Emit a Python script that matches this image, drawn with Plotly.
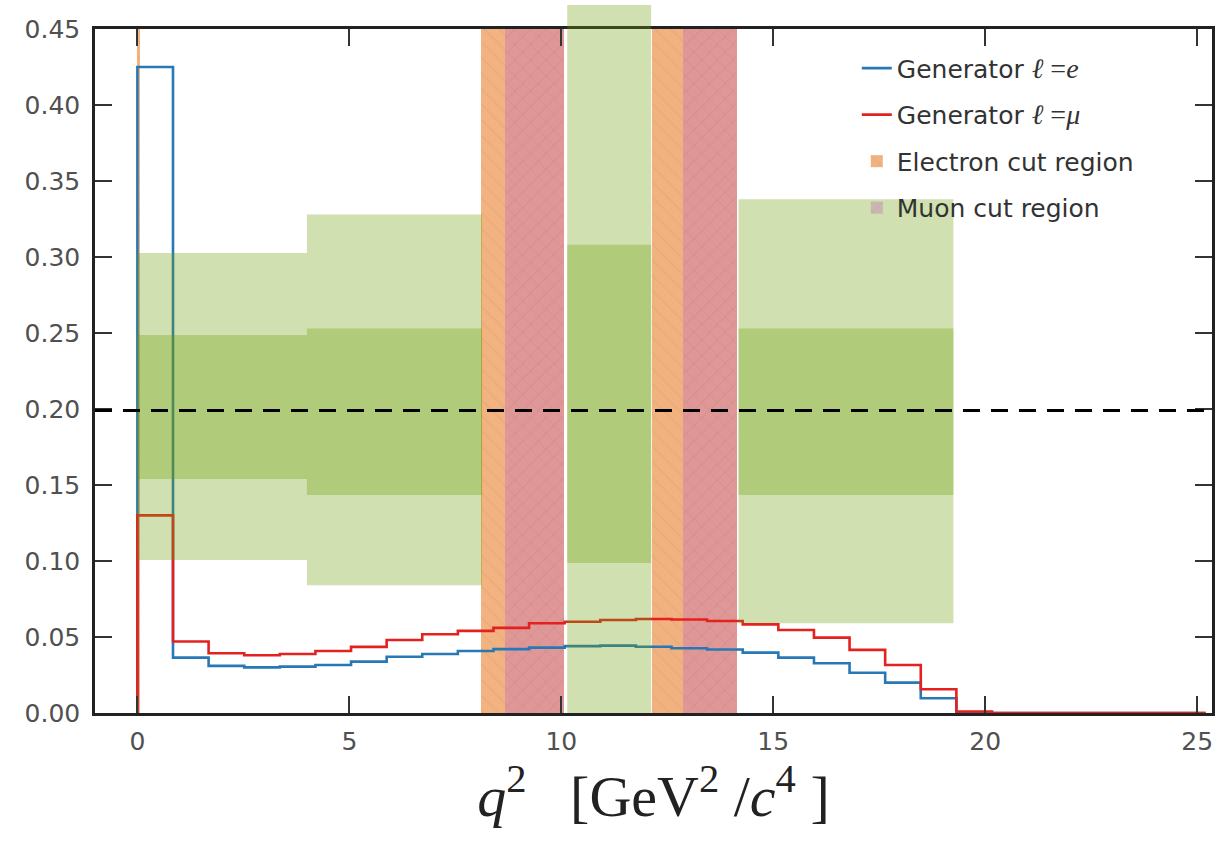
import numpy as np
import plotly.graph_objects as go

# q^2 histogram binning (GeV^2/c^4)
bin_width = 0.84
n_bins = 30
edges = np.arange(n_bins + 1) * bin_width

# normalised generator-level q^2 spectra
gen_e = [0.425, 0.0364, 0.0310, 0.0300, 0.0305, 0.0316, 0.0338, 0.0370, 0.0388, 0.0408,
         0.0420, 0.0430, 0.0440, 0.0443, 0.0436, 0.0426, 0.0418, 0.0397, 0.0364, 0.0327,
         0.0265, 0.0200, 0.0097, 0.0005, 0.0, 0.0, 0.0, 0.0, 0.0, 0.0]
gen_mu = [0.130, 0.0470, 0.0393, 0.0380, 0.0388, 0.0408, 0.0435, 0.0480, 0.0518, 0.0540,
          0.0560, 0.0590, 0.0600, 0.0612, 0.0618, 0.0615, 0.0605, 0.0583, 0.0546, 0.0496,
          0.0415, 0.0316, 0.0156, 0.0010, 0.0, 0.0, 0.0, 0.0, 0.0, 0.0]

# vetoed q^2 windows
electron_cut_lo = [0.0, 8.11, 12.15]
electron_cut_hi = [0.05, 10.07, 14.15]
muon_cut_lo = [8.68, 12.88]
muon_cut_hi = [10.07, 14.15]

# measurement bins with 1 sigma / 2 sigma bands
band_lo = [0.0, 4.0, 10.14, 14.18]
band_hi = [4.0, 8.13, 12.12, 19.25]
band_1s_lo = [0.154, 0.1434, 0.0987, 0.1434]
band_1s_hi = [0.2487, 0.253, 0.308, 0.253]
band_2s_lo = [0.1007, 0.084, 0.0, 0.059]
band_2s_hi = [0.3027, 0.328, 0.4658, 0.338]

reference_level = 0.199

x_range = [-1.0, 25.35]
y_range = [0.0, 0.45]
x_ticks = [0, 5, 10, 15, 20, 25]
y_ticks = [0.0, 0.05, 0.10, 0.15, 0.20, 0.25, 0.30, 0.35, 0.40, 0.45]

fig = go.Figure()


def step_xy(values):
    xs = [edges[0]] + list(edges)
    ys = [0.0] + list(values) + [values[-1]]
    return xs, ys


math = 'font-family:Liberation Serif;font-size:28px'
gx, gy = step_xy(gen_e)
fig.add_trace(go.Scatter(
    x=gx, y=gy, mode="lines", line=dict(color="#2878b5", width=2.6, shape="hv"),
    name=f'Generator <span style="{math}"><i>ℓ</i> =<i>e</i></span>', legendgroup="e"))
gx, gy = step_xy(gen_mu)
fig.add_trace(go.Scatter(
    x=gx, y=gy, mode="lines", line=dict(color="#e3211f", width=2.6, shape="hv"),
    name=f'Generator <span style="{math}"><i>ℓ</i> =<i>μ</i></span>', legendgroup="mu"))


def cut_bars(lo, hi, color, opacity, hatch, fg, name, group):
    lo = np.array(lo)
    hi = np.array(hi)
    return go.Bar(
        x=(lo + hi) / 2, width=hi - lo, base=[y_range[0]] * len(lo),
        y=[y_range[1] - y_range[0]] * len(lo),
        marker=dict(color=color, line=dict(width=0),
                    pattern=dict(shape=hatch, fillmode="overlay", bgcolor=color,
                                 fgcolor=fg, fgopacity=0.35, size=11, solidity=0.12)),
        opacity=opacity, name=name, legendgroup=group, hoverinfo="skip")


fig.add_trace(cut_bars(electron_cut_lo, electron_cut_hi, "rgb(234,132,52)", 0.62,
                       "\\", "rgb(190,90,30)", "Electron cut region", "ecut"))
fig.add_trace(cut_bars(muon_cut_lo, muon_cut_hi, "rgb(198,115,187)", 0.4,
                       "/", "rgb(150,60,120)", "Muon cut region", "mucut"))

# green uncertainty bands drawn over the spectra
green = "rgba(108,158,8,0.32)"
y_span = y_range[1] - y_range[0]
for lo, hi, b_lo, b_hi in zip(band_lo, band_hi, band_2s_lo, band_2s_hi):
    if b_hi > y_range[1]:
        # band reaching past the top of the axes is not clipped vertically
        fig.add_shape(type="rect", xref="x", yref="y domain", x0=lo, x1=hi,
                      y0=(b_lo - y_range[0]) / y_span, y1=(b_hi - y_range[0]) / y_span,
                      fillcolor=green, line=dict(width=0), layer="above")
    else:
        fig.add_shape(type="rect", xref="x", yref="y", x0=lo, x1=hi, y0=b_lo, y1=b_hi,
                      fillcolor=green, line=dict(width=0), layer="above")
for lo, hi, b_lo, b_hi in zip(band_lo, band_hi, band_1s_lo, band_1s_hi):
    fig.add_shape(type="rect", xref="x", yref="y", x0=lo, x1=hi, y0=b_lo, y1=b_hi,
                  fillcolor=green, line=dict(width=0), layer="above")

fig.add_shape(type="line", xref="x domain", yref="y", x0=0, x1=1,
              y0=reference_level, y1=reference_level,
              line=dict(color="black", width=3, dash="17px,11px"), layer="above")

axis_common = dict(
    showline=True, linecolor="#222222", linewidth=2.5, mirror="allticks",
    ticks="inside", ticklen=17, tickwidth=1.6, tickcolor="#333333",
    showgrid=False, zeroline=False,
    tickfont=dict(family="DejaVu Sans", size=25, color="#505050"),
)

fig.update_xaxes(
    range=x_range, tickmode="array", tickvals=x_ticks,
    ticklabelstandoff=4,
    title=dict(text="<i>q</i><sup>2</sup>&nbsp;&nbsp;&nbsp;[GeV<sup>2</sup> /<i>c</i><sup>4</sup> ]",
               font=dict(family="Liberation Serif", size=58, color="#222222"),
               standoff=16),
    **axis_common)
fig.update_yaxes(
    range=y_range, tickmode="array", tickvals=y_ticks,
    tickformat=".2f", ticklabelstandoff=7, **axis_common)

fig.update_layout(
    width=1216, height=841,
    margin=dict(l=95, r=4, t=29, b=128, autoexpand=False),
    paper_bgcolor="white", plot_bgcolor="white",
    barmode="overlay", bargap=0,
    legend=dict(x=0.682, y=0.976, xanchor="left", yanchor="top",
                bgcolor="rgba(0,0,0,0)", borderwidth=0, tracegroupgap=11,
                font=dict(family="DejaVu Sans", size=25, color="#333333")),
    showlegend=True,
)

fig.write_html("out.html")
